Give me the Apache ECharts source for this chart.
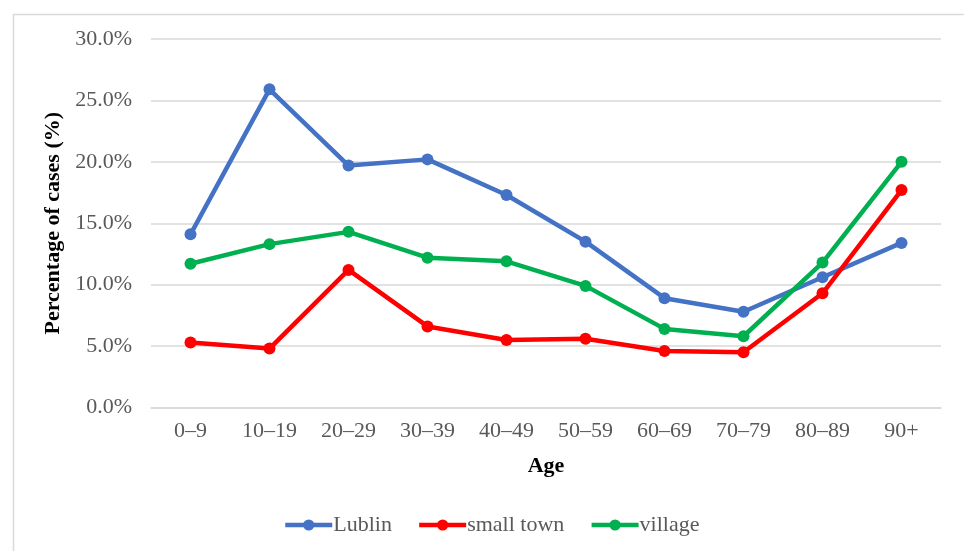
<!DOCTYPE html>
<html>
<head>
<meta charset="utf-8">
<style>
  html, body { margin: 0; padding: 0; background: #ffffff; }
  #chart { width: 964px; height: 551px; }
</style>
<script src="https://cdn.jsdelivr.net/npm/echarts@6/dist/echarts.min.js"></script>
</head>
<body>
<div id="chart"></div>
<script>
// Age groups on the category axis
const ageGroups = ['0–9', '10–19', '20–29', '30–39', '40–49', '50–59', '60–69', '70–79', '80–89', '90+'];

// Share of cases (%) in each age group, by place of residence
const lublin = [14.1, 25.9, 19.7, 20.2, 17.3, 13.5, 8.9, 7.8, 10.6, 13.4];
const smallTown = [5.3, 4.8, 11.2, 6.6, 5.5, 5.6, 4.6, 4.5, 9.3, 17.7];
const village = [11.7, 13.3, 14.3, 12.2, 11.9, 9.9, 6.4, 5.8, 11.8, 20.0];

// Value-axis range and step
const yMin = 0;
const yMax = 30;
const yStep = 5;

const serif = '"Liberation Serif", "Times New Roman", serif';
const gridColor = '#d9d9d9';
const textGray = '#595959';

function makeSeries(name, data, color) {
  return {
    name: name,
    type: 'line',
    data: data,
    symbol: 'circle',
    symbolSize: 12,
    lineStyle: { width: 4.5, color: color },
    itemStyle: { color: color },
    emphasis: { disabled: true },
    animation: false
  };
}

const chart = echarts.init(document.getElementById('chart'), null, { renderer: 'canvas' });

chart.setOption({
  backgroundColor: '#ffffff',
  animation: false,
  graphic: [{
    type: 'rect',
    shape: { x: 13.5, y: 14.5, width: 980, height: 560 },
    style: { fill: 'none', stroke: '#d9d9d9', lineWidth: 1.5 },
    silent: true,
    z: -1
  }],
  grid: { left: 151, right: 23, top: 39, bottom: 143.5, containLabel: false },
  xAxis: {
    type: 'category',
    data: ageGroups,
    boundaryGap: true,
    name: 'Age',
    nameLocation: 'middle',
    nameGap: 48,
    nameTextStyle: { fontFamily: serif, fontSize: 22, fontWeight: 'bold', color: '#000000' },
    axisLine: { show: true, lineStyle: { color: gridColor, width: 1.5 } },
    axisTick: { show: false },
    axisLabel: { fontFamily: serif, fontSize: 22, color: textGray, margin: 13 }
  },
  yAxis: {
    type: 'value',
    min: yMin,
    max: yMax,
    interval: yStep,
    name: 'Percentage of cases (%)',
    nameLocation: 'middle',
    nameGap: 86,
    nameRotate: 90,
    nameTextStyle: { fontFamily: serif, fontSize: 22, fontWeight: 'bold', color: '#000000' },
    axisLine: { show: false },
    axisTick: { show: false },
    splitLine: { lineStyle: { color: gridColor, width: 1.5 } },
    axisLabel: {
      fontFamily: serif,
      fontSize: 22,
      color: textGray,
      margin: 19,
      formatter: function (v) { return v.toFixed(1) + '%'; }
    }
  },
  legend: {
    bottom: 10,
    left: 278,
    itemWidth: 47,
    itemHeight: 14,
    itemGap: 25,
    lineStyle: { width: 4.5 },
    textStyle: { fontFamily: serif, fontSize: 22, color: textGray, padding: [0, 0, 0, -4] },
    data: ['Lublin', 'small town', 'village']
  },
  series: [
    makeSeries('Lublin', lublin, '#4472c4'),
    makeSeries('small town', smallTown, '#ff0000'),
    makeSeries('village', village, '#00b050')
  ]
});
</script>
</body>
</html>
